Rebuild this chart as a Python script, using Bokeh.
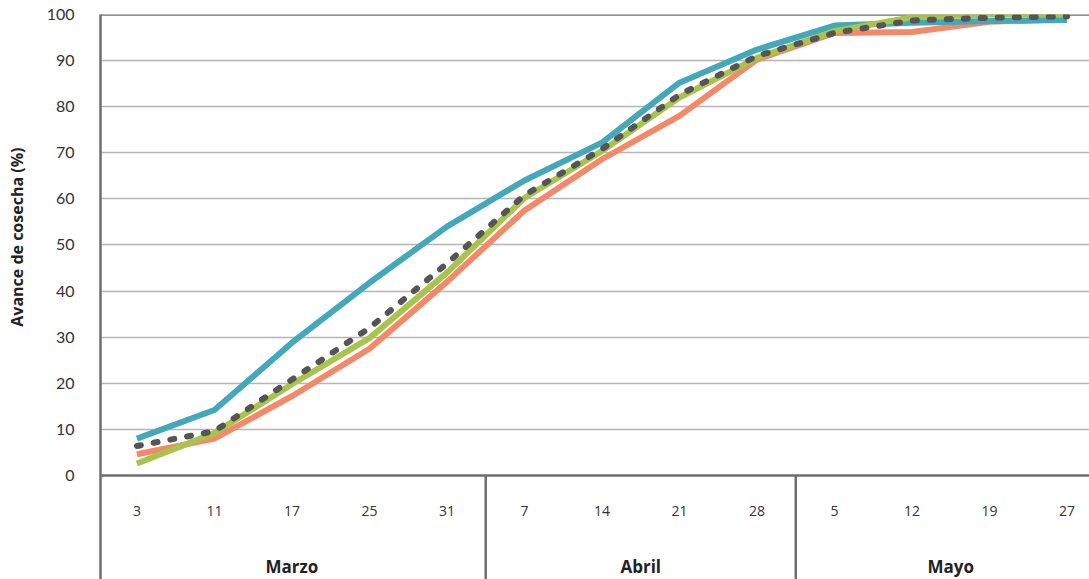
from bokeh.plotting import figure
from bokeh.models import Range1d, FixedTicker, Title
from bokeh.core.properties import value
from bokeh.embed import file_html
from bokeh.resources import INLINE

# ---- data ----
days = ["3", "11", "17", "25", "31", "7", "14", "21", "28", "5", "12", "19", "27"]
months = ["Marzo", "Abril", "Mayo"]
month_sizes = [5, 4, 4]

serie_teal = [8.0, 14.2, 28.8, 41.8, 54.0, 64.0, 72.2, 85.2, 92.4, 97.6, 98.2, 98.6, 98.8]
serie_naranja = [4.6, 8.0, 17.2, 27.5, 42.0, 57.5, 68.6, 78.0, 90.2, 96.0, 96.2, 98.4, 99.0]
serie_verde = [2.6, 9.2, 19.8, 29.8, 44.0, 60.2, 70.4, 82.0, 90.6, 96.4, 99.4, 100.0, 100.0]
serie_promedio = [6.4, 9.6, 20.8, 32.0, 46.0, 60.8, 70.8, 82.6, 91.0, 96.0, 98.7, 99.3, 99.6]

y_ticks = [0, 10, 20, 30, 40, 50, 60, 70, 80, 90, 100]

# ---- figure ----
y_bottom = -22.56
x = list(range(len(days)))

p = figure(width=1089, height=579,
           x_range=Range1d(-0.47, 12.29), y_range=Range1d(y_bottom, 100),
           output_backend="svg", toolbar_location=None,
           x_axis_location=None,
           min_border_left=100, min_border_top=14, min_border_bottom=0, min_border_right=0)
p.outline_line_color = None
p.background_fill_color = "white"
p.border_fill_color = "white"
p.xgrid.grid_line_color = None
p.ygrid.grid_line_color = None

ax = p.yaxis[0]
ax.ticker = FixedTicker(ticks=y_ticks)
ax.axis_line_color = "#6e6e6e"
ax.axis_line_width = 2.5
ax.major_tick_line_color = None
ax.minor_tick_line_color = None
ax.major_label_standoff = 20
ax.major_label_text_font = "Lato"
ax.major_label_text_font_size = "16px"
ax.major_label_text_color = "#333333"

# spacer between tick labels and the y-axis title
p.add_layout(Title(text=" ", standoff=2, text_font_size="10px"), "left")
# y-axis title
p.add_layout(Title(text="Avance de cosecha (%)", align="right", offset=133, standoff=2,
                   text_font="Open Sans", text_font_size="16px",
                   text_font_style="bold", text_color="#222222"), "left")

# grid lines
p.hspan(y=y_ticks[1:-1], line_color="#b5b5b5", line_width=1.5)
p.hspan(y=[0, 100], line_color="#6e6e6e", line_width=2.5)

# month separators
seps = []
acc = 0
for s in month_sizes[:-1]:
    acc += s
    seps.append(acc - 0.5)
p.segment(x0=seps, y0=[0] * len(seps), x1=seps, y1=[y_bottom] * len(seps),
          line_color="#6e6e6e", line_width=2.5)

# series
p.line(x, serie_naranja, line_color="#F4896A", line_width=6, line_join="round")
p.line(x, serie_teal, line_color="#42A8BA", line_width=6, line_join="round")
p.line(x, serie_verde, line_color="#A9C44C", line_width=6, line_join="round")
p.line(x, serie_promedio, line_color="#555555", line_width=6, line_dash="4 13",
       line_cap="round", line_join="round")

# day labels
p.text(x=x, y=[-7.6] * len(x), text=days, text_align="center", text_baseline="middle",
       text_font=value("Open Sans"), text_font_size="14px", text_color="#333333")

# month labels
centers = []
start = 0
for s in month_sizes:
    centers.append(start + (s - 1) / 2)
    start += s
p.text(x=centers, y=[-19.7] * len(centers), text=months, text_align="center",
       text_baseline="middle", text_font=value("Open Sans"), text_font_size="17px",
       text_font_style="bold", text_color="#222222")

open("out.html", "w").write(file_html(p, INLINE))
